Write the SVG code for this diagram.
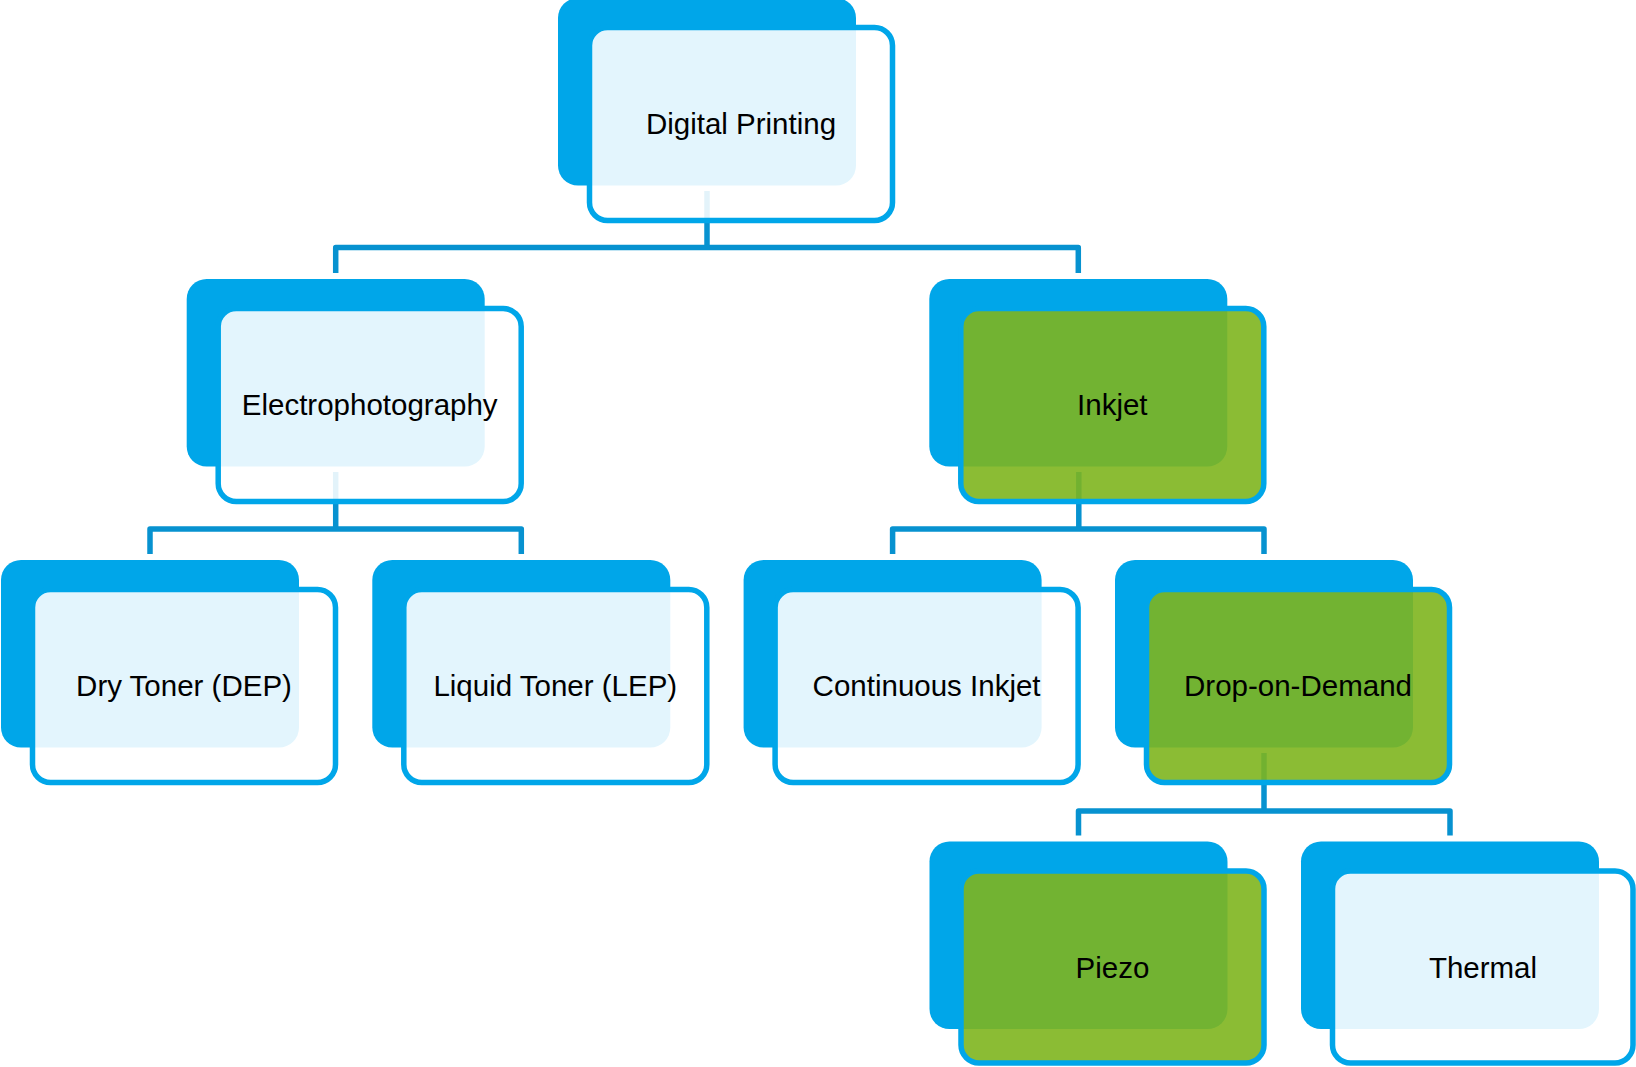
<svg xmlns="http://www.w3.org/2000/svg" width="1636" height="1067" viewBox="0 0 1636 1067">
<style>
.back{fill:#00A6E9;}
.front{stroke:#00A6E9;stroke-width:5.5;}
.light{fill:#FFFFFF;fill-opacity:0.89;}
.green{fill:#7EB51E;fill-opacity:0.9;}
.conn{fill:none;stroke:#0792D0;stroke-width:5.5;stroke-linejoin:round;stroke-linecap:butt;}
.lbl{font-family:"Liberation Sans",Arial,sans-serif;font-size:29.5px;fill:#000000;text-anchor:middle;}
</style>
<rect width="1636" height="1067" fill="#FFFFFF"/>
<g id="connectors">
<path class="conn" d="M707,191 V247.5"/>
<path class="conn" d="M335.7,273 V247.5 H1078.3 V273"/>
<path class="conn" d="M335.7,472 V529"/>
<path class="conn" d="M150,554 V529 H521.3 V554"/>
<path class="conn" d="M1078.8,472 V529"/>
<path class="conn" d="M892.6,554 V529 H1264 V554"/>
<path class="conn" d="M1264,753 V811"/>
<path class="conn" d="M1078.5,835.5 V811 H1450 V835.5"/>
</g>
<g id="node-digital-printing">
<rect class="back" x="558" y="-2" width="298" height="187.5" rx="20"/>
<rect class="front light" x="589.5" y="27.5" width="303" height="193" rx="18"/>
<text class="lbl" x="741" y="134">Digital Printing</text>
</g>
<g id="node-electrophotography">
<rect class="back" x="186.7" y="279" width="298" height="187.5" rx="20"/>
<rect class="front light" x="218.2" y="308.5" width="303" height="193" rx="18"/>
<text class="lbl" x="369.7" y="415">Electrophotography</text>
</g>
<g id="node-inkjet">
<rect class="back" x="929.3" y="279" width="298" height="187.5" rx="20"/>
<rect class="front green" x="960.8" y="308.5" width="303" height="193" rx="18"/>
<text class="lbl" x="1112.3" y="415">Inkjet</text>
</g>
<g id="node-dry-toner">
<rect class="back" x="1" y="560" width="298" height="187.5" rx="20"/>
<rect class="front light" x="32.5" y="589.5" width="303" height="193" rx="18"/>
<text class="lbl" x="184" y="696">Dry Toner (DEP)</text>
</g>
<g id="node-liquid-toner">
<rect class="back" x="372.3" y="560" width="298" height="187.5" rx="20"/>
<rect class="front light" x="403.8" y="589.5" width="303" height="193" rx="18"/>
<text class="lbl" x="555.3" y="696">Liquid Toner (LEP)</text>
</g>
<g id="node-continuous-inkjet">
<rect class="back" x="743.6" y="560" width="298" height="187.5" rx="20"/>
<rect class="front light" x="775.1" y="589.5" width="303" height="193" rx="18"/>
<text class="lbl" x="926.6" y="696">Continuous Inkjet</text>
</g>
<g id="node-drop-on-demand">
<rect class="back" x="1115" y="560" width="298" height="187.5" rx="20"/>
<rect class="front green" x="1146.5" y="589.5" width="303" height="193" rx="18"/>
<text class="lbl" x="1298" y="696">Drop-on-Demand</text>
</g>
<g id="node-piezo">
<rect class="back" x="929.5" y="841.5" width="298" height="187.5" rx="20"/>
<rect class="front green" x="961" y="871" width="303" height="192" rx="18"/>
<text class="lbl" x="1112.5" y="977.5">Piezo</text>
</g>
<g id="node-thermal">
<rect class="back" x="1301" y="841.5" width="298" height="187.5" rx="20"/>
<rect class="front light" x="1332.5" y="871" width="300.5" height="192" rx="18"/>
<text class="lbl" x="1483" y="977.5">Thermal</text>
</g>
</svg>
